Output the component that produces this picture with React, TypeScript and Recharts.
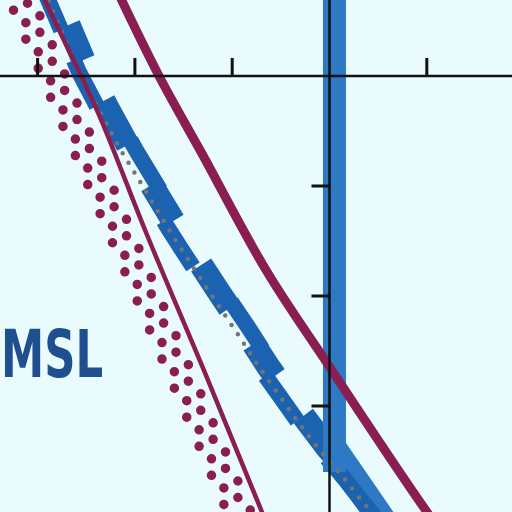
import { LineChart, Line, XAxis, YAxis, ReferenceLine } from 'recharts'

// chart units: one tick step on each axis
const tickX = [-3, -2, -1, 1]
const tickY = [-1, -2, -3]

type Pt = [number, number]

// airway centreline (grey dotted)
const airwayCentre: Pt[] = [
  [-2.975, 0.873], [-2.883, 0.673], [-2.749, 0.4], [-2.575, 0.036], [-2.359, -0.327],
  [-2.133, -0.691], [-1.896, -1.036], [-1.66, -1.382], [-1.536, -1.555], [-1.228, -1.973],
  [-0.971, -2.309], [-0.725, -2.645], [-0.519, -2.9], [-0.324, -3.145], [-0.118, -3.382],
  [0.036, -3.536], [0.18, -3.691], [0.324, -3.855], [0.396, -3.927], [0.488, -4.036],
]

// airway band, centred on the dots
const airwayCentred: Pt[][] = [
  [[-2.975, 0.873], [-2.883, 0.673], [-2.758, 0.418]],
  [[-2.627, 0.145], [-2.575, 0.036], [-2.392, -0.273]],
  [[-1.703, -1.318], [-1.66, -1.382], [-1.536, -1.555], [-1.403, -1.736]],
  [[-0.659, -2.727], [-0.519, -2.9], [-0.331, -3.136]],
  [[-0.028, -3.473], [0.036, -3.536], [0.18, -3.691], [0.324, -3.855], [0.396, -3.927], [0.488, -4.036]],
]

// wider notch blocks
const airwayNotch: Pt[][] = [
  [[-2.682, 0.464], [-2.529, 0.145]],
  [[-2.321, -0.227], [-2.261, -0.327], [-2.074, -0.627]],
  [[-1.829, -0.991], [-1.605, -1.318]],
  [[-1.319, -1.718], [-1.131, -1.973], [-1.027, -2.109]],
  [[-0.78, -2.436], [-0.627, -2.645], [-0.561, -2.727]],
  [[-0.269, -3.091], [-0.021, -3.382], [0.07, -3.473]],
]

// band stepped to the right of the dots
const airwayShifted: Pt[][] = [
  [[-2.046, -0.582], [-1.978, -0.691], [-1.742, -1.036]],
  [[-1.011, -2.055], [-0.817, -2.309], [-0.691, -2.482]],
]

const corridorVertical: Pt[] = [[0.051, 0.873], [0.051, -3.6]]
const corridorBend: Pt[] = [[0.051, -3.409], [0.468, -3.945], [0.642, -4.173]]

const courseThick: Pt[] = [
  [-2.235, 0.873], [-1.752, 0], [-1.331, -0.673], [-0.653, -1.764],
  [-0.005, -2.636], [1.002, -3.964], [1.146, -4.145],
]
const courseThin: Pt[] = [
  [-3.016, 0.873], [-2.924, 0.691], [-2.359, -0.373], [-1.896, -1.4],
  [-1.249, -2.764], [-0.694, -3.964], [-0.612, -4.145],
]

// dotted boundary, four rows of dots
const boundaryRows: Pt[][] = [
  [[-3.375, 1.013], [-0.958, -4.01]],
  [[-3.375, 0.863], [-0.958, -4.16]],
  [[-3.231, 1.076], [-0.687, -4.211]],
  [[-3.231, 0.926], [-0.687, -4.361]],
]

const toRows = (pts: Pt[]) => pts.map(([x, y]) => ({ x, y }))
const toSegments = (segs: Pt[][]) =>
  segs.flatMap((s, i) => {
    const rows: { x: number; y: number | null }[] = toRows(s)
    if (i < segs.length - 1) rows.push({ x: s[s.length - 1][0], y: null })
    return rows
  })

const MAGENTA = '#8a1e52'
const AIRWAY = '#1b63b1'
const CORRIDOR = '#2e79c3'

const common = {
  dataKey: 'y',
  dot: false,
  activeDot: false,
  isAnimationActive: false,
  type: 'linear' as const,
  legendType: 'none' as const,
}

export default function App() {
  return (
    <div style={{ position: 'absolute', left: 0, top: 0, width: 512, height: 512, background: '#e9fbfd', overflow: 'hidden' }}>
      <LineChart width={512} height={512} margin={{ top: 0, right: 0, bottom: 0, left: 0 }}>
        <XAxis type="number" dataKey="x" domain={[-3.3864, 1.8756]} allowDataOverflow hide />
        <YAxis type="number" domain={[-3.9636, 0.6909]} allowDataOverflow hide />

        <Line {...common} data={toRows(corridorBend)} stroke={CORRIDOR} strokeWidth={28} strokeLinecap="butt" />
        <Line {...common} data={toSegments(airwayCentred)} stroke={AIRWAY} strokeWidth={16} strokeLinecap="butt" />
        <Line {...common} data={toSegments(airwayNotch)} stroke={AIRWAY} strokeWidth={24} strokeLinecap="butt" />
        <Line {...common} data={toSegments(airwayShifted)} stroke={AIRWAY} strokeWidth={16} strokeLinecap="butt" />
        <Line {...common} data={toRows(corridorVertical)} stroke={CORRIDOR} strokeWidth={23} strokeLinecap="butt" />
        <Line {...common} data={toRows(airwayCentre)} stroke="#747474" strokeWidth={4.5} strokeLinecap="round" strokeDasharray="0 11.3" />

        {boundaryRows.map((r, i) => (
          <Line key={i} {...common} data={toRows(r)} stroke={MAGENTA} strokeWidth={9.5} strokeLinecap="round" strokeDasharray="0 31.6" />
        ))}
        <Line {...common} type="monotone" data={toRows(courseThin)} stroke={MAGENTA} strokeWidth={4.5} />
        <Line {...common} type="monotone" data={toRows(courseThick)} stroke={MAGENTA} strokeWidth={9} />

        <ReferenceLine y={0} stroke="#111" strokeWidth={2.5} />
        <ReferenceLine x={0} stroke="#111" strokeWidth={2.5} />
        {tickX.map((t) => (
          <ReferenceLine key={'x' + t} segment={[{ x: t, y: 0 }, { x: t, y: 0.164 }]} stroke="#111" strokeWidth={3} />
        ))}
        {tickY.map((t) => (
          <ReferenceLine key={'y' + t} segment={[{ x: -0.185, y: t }, { x: 0, y: t }]} stroke="#111" strokeWidth={3} />
        ))}
      </LineChart>
      <svg width={512} height={512} style={{ position: 'absolute', left: 0, top: 0, pointerEvents: 'none' }}>
        <text
          x={1}
          y={377}
          textLength={102}
          lengthAdjust="spacingAndGlyphs"
          fill="#1f4f8f"
          fontFamily="'Liberation Sans Narrow', 'DejaVu Sans Condensed', 'Liberation Sans', sans-serif"
          fontWeight="bold"
          fontSize={66}
        >
          MSL
        </text>
      </svg>
    </div>
  )
}
